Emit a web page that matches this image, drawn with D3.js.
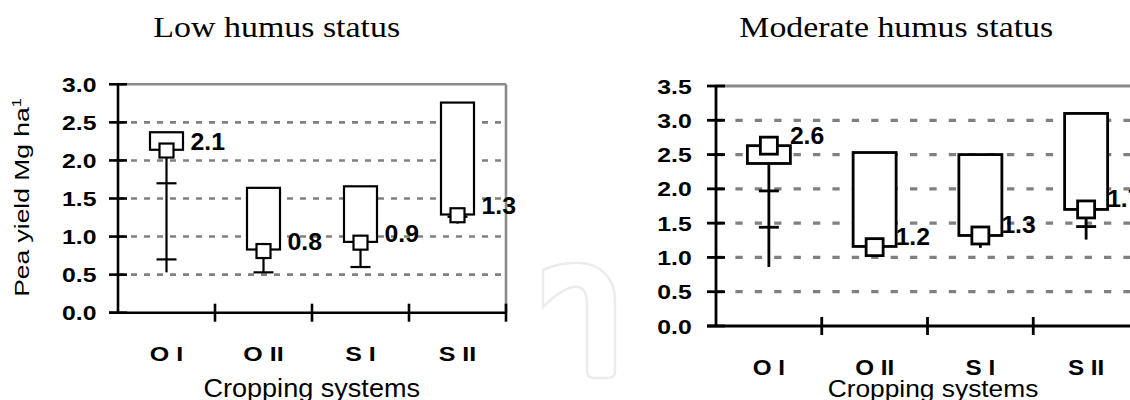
<!DOCTYPE html>
<html><head><meta charset="utf-8">
<script src="https://cdn.jsdelivr.net/npm/d3@7"></script>
<style>body{margin:0;background:#fff} svg{display:block}</style>
</head><body><svg id="c" width="1130" height="400"></svg>
<script>
// ---------- data ----------
const categories = ["O I", "O II", "S I", "S II"];

// Low humus status
const lowBoxTop    = [2.37, 1.64, 1.66, 2.76];
const lowBoxBottom = [2.14, 0.83, 0.93, 1.29];
const lowMean      = [2.13, 0.81, 0.92, 1.28];
const lowMin       = [0.53, 0.53, 0.60, 1.17];
const lowCross     = [[1.70, 0.70], [0.53], [0.60], [1.26]];
const lowLabels    = ["2.1", "0.8", "0.9", "1.3"];
const lowYTicks    = [0, 0.5, 1.0, 1.5, 2.0, 2.5, 3.0];

// Moderate humus status
const modBoxTop    = [2.63, 2.53, 2.50, 3.10];
const modBoxBottom = [2.37, 1.16, 1.32, 1.70];
const modMean      = [2.63, 1.15, 1.32, 1.70];
const modMin       = [0.86, 1.15, 1.14, 1.26];
const modCross     = [[1.97, 1.44], [], [], [1.45]];
const modLabels    = ["2.6", "1.2", "1.3", "1.7"];
const modYTicks    = [0, 0.5, 1.0, 1.5, 2.0, 2.5, 3.0, 3.5];

const titles = ["Low humus status", "Moderate humus status"];
const xTitle = "Cropping systems";
const yTitle = "Pea yield Mg ha";
const yTitleSup = "1";

// ---------- helpers ----------
const svg = d3.select("#c");
const SANS = "Arial, 'Liberation Sans', Helvetica, sans-serif";
const SERIF = "'Liberation Serif', 'Times New Roman', serif";

function txt(parent, x, y, s, o) {
  const g = parent.append("g");
  const t = g.append("text")
    .attr("text-anchor", o.anchor || "start")
    .style("font-family", o.family || SANS)
    .style("font-size", o.size + "px")
    .style("font-weight", o.weight || "normal")
    .attr("fill", "#000")
    .text(s);
  let sx = o.sx || 1;
  if (o.width) sx = o.width / t.node().getComputedTextLength();
  g.attr("transform", `translate(${x},${y})${o.rotate ? " rotate(" + o.rotate + ")" : ""} scale(${sx},1)`);
  return t;
}

// watermark (faint)
svg.append("path")
  .attr("d", "M543,270 C556,264 566,262.7 577,262.7 C600,262.7 615,278 615,300 L615,371 Q615,378 608,378 L594,378 Q587,378 587,371 L587,305 C587,293 583,286.7 576,286.7 C566,286.7 554,296 543,307 Z")
  .attr("fill", "none").attr("stroke", "#ececec").attr("stroke-width", 2.5);

function drawChart(cfg) {
  const g = svg.append("g");
  const x = d3.scaleBand().domain(categories).range([cfg.x0, cfg.x1]);
  const y = d3.scaleLinear().domain([0, cfg.yMax]).range([cfg.yBottom, cfg.yTop]);
  const xEnd = Math.min(cfg.x1, 1135);

  // grid lines
  g.selectAll(".grid").data(cfg.yTicks.filter(v => v > 0 && v < cfg.yMax)).join("line")
    .attr("x1", cfg.x0).attr("x2", xEnd)
    .attr("y1", d => y(d)).attr("y2", d => y(d))
    .attr("stroke", "#808080").attr("stroke-width", cfg.gridW)
    .attr("stroke-dasharray", cfg.dash);
  // top frame line (solid gray)
  g.append("line").attr("x1", cfg.x0).attr("x2", xEnd)
    .attr("y1", y(cfg.yMax)).attr("y2", y(cfg.yMax))
    .attr("stroke", "#8a8a8a").attr("stroke-width", cfg.gridW);
  if (cfg.rightFrame) {
    g.append("line").attr("x1", cfg.x1).attr("x2", cfg.x1)
      .attr("y1", y(cfg.yMax)).attr("y2", y(0))
      .attr("stroke", "#8a8a8a").attr("stroke-width", cfg.gridW);
  }

  // y axis
  const yAxis = d3.axisLeft(y).tickValues(cfg.yTicks).tickSize(0).tickFormat("");
  const ya = g.append("g").attr("transform", `translate(${cfg.x0},0)`).call(yAxis);
  ya.select(".domain").remove();
  g.append("line").attr("x1", cfg.x0).attr("x2", cfg.x0).attr("y1", y(cfg.yMax) - 1).attr("y2", y(0) + 1)
    .attr("stroke", "#000").attr("stroke-width", cfg.axisW);
  g.selectAll(".yt").data(cfg.yTicks).join("line")
    .attr("x1", cfg.x0 - 9).attr("x2", cfg.x0 + 9)
    .attr("y1", d => y(d)).attr("y2", d => y(d))
    .attr("stroke", "#000").attr("stroke-width", cfg.axisW);
  cfg.yTicks.forEach(v => {
    txt(g, cfg.x0 - cfg.tickLabelGap, y(v) + 7.5, d3.format(".1f")(v),
      { size: 19.5, weight: "bold", anchor: "end", sx: 1.27 });
  });

  // x axis
  g.append("line").attr("x1", cfg.x0 - 9).attr("x2", xEnd).attr("y1", y(0)).attr("y2", y(0))
    .attr("stroke", "#000").attr("stroke-width", cfg.axisW);
  const bounds = categories.map(c => x(c)).concat([cfg.x1]).filter(v => v > cfg.x0);
  g.selectAll(".xt").data(bounds).join("line")
    .attr("x1", d => d).attr("x2", d => d)
    .attr("y1", y(0) - 9).attr("y2", y(0) + 9)
    .attr("stroke", "#000").attr("stroke-width", cfg.axisW);
  categories.forEach(c => {
    txt(g, x(c) + x.bandwidth() / 2, y(0) + cfg.xLabelDy, c,
      { size: cfg.xLabelSize, weight: "bold", anchor: "middle", sx: cfg.xLabelSx });
  });

  // marks
  const cx = c => x(c) + x.bandwidth() / 2;
  categories.forEach((c, i) => {
    // whisker
    g.append("line").attr("x1", cx(c)).attr("x2", cx(c))
      .attr("y1", y(cfg.mean[i])).attr("y2", y(cfg.min[i]))
      .attr("stroke", "#000").attr("stroke-width", cfg.markW);
    cfg.cross[i].forEach(v => {
      g.append("line").attr("x1", cx(c) - 10).attr("x2", cx(c) + 10)
        .attr("y1", y(v)).attr("y2", y(v))
        .attr("stroke", "#000").attr("stroke-width", cfg.markW);
    });
    // box
    g.append("rect")
      .attr("x", cx(c) - cfg.boxW / 2).attr("width", cfg.boxW)
      .attr("y", y(cfg.top[i])).attr("height", y(cfg.bottom[i]) - y(cfg.top[i]))
      .attr("fill", "#fff").attr("stroke", "#000").attr("stroke-width", cfg.markW);
    // marker
    g.append("rect")
      .attr("x", cx(c) - cfg.mk / 2).attr("y", y(cfg.mean[i]) - cfg.mk / 2)
      .attr("width", cfg.mk).attr("height", cfg.mk)
      .attr("fill", "#fff").attr("stroke", "#000").attr("stroke-width", cfg.markW);
    // value label
    txt(g, cx(c) + cfg.labelDx, y(cfg.mean[i]) + cfg.labelDy, cfg.labels[i],
      { size: cfg.labelSize, weight: "bold", sx: cfg.labelSx });
  });

  // titles
  txt(g, cfg.titleX, 37.3, cfg.title, { size: 30, family: SERIF, width: cfg.titleW });
  txt(g, cfg.xTitleX, 396.7, xTitle, { size: cfg.xTitleSize, anchor: "middle", width: cfg.xTitleW });
}

drawChart({
  x0: 118, x1: 506, yTop: 84.3, yBottom: 312.7, yMax: 3.0, yTicks: lowYTicks,
  top: lowBoxTop, bottom: lowBoxBottom, mean: lowMean, min: lowMin, cross: lowCross, labels: lowLabels,
  boxW: 33, mk: 14, markW: 2.2, axisW: 2.6, gridW: 2.6, dash: "6,7", rightFrame: true,
  tickLabelGap: 21.5, xLabelDy: 48, xLabelSize: 20.5, xLabelSx: 1.22,
  labelDx: 24, labelDy: -1, labelSize: 23, labelSx: 1.08,
  title: titles[0], titleX: 153.3, titleW: 247,
  xTitleX: 311.7, xTitleSize: 25, xTitleW: 216.7
});

drawChart({
  x0: 716, x1: 1139, yTop: 86, yBottom: 326, yMax: 3.5, yTicks: modYTicks,
  top: modBoxTop, bottom: modBoxBottom, mean: modMean, min: modMin, cross: modCross, labels: modLabels,
  boxW: 43, mk: 17, markW: 2.8, axisW: 2.8, gridW: 3.2, dash: "7.3,12.1", rightFrame: false,
  tickLabelGap: 24.3, xLabelDy: 49, xLabelSize: 22, xLabelSx: 1.1,
  labelDx: 21, labelDy: -2, labelSize: 24, labelSx: 1.03,
  title: titles[1], titleX: 739.3, titleW: 314,
  xTitleX: 933, xTitleSize: 24, xTitleW: 210.7
});

// y axis title (left chart)
{
  const g = svg.append("g").attr("transform", "translate(29,197.5) rotate(-90)");
  const t = g.append("text").attr("text-anchor", "middle")
    .style("font-family", SANS).style("font-size", "21px").attr("fill", "#000");
  t.append("tspan").text(yTitle);
  t.append("tspan").attr("dy", -8).style("font-size", "13px").text(yTitleSup);
  const w = t.node().getComputedTextLength();
  g.attr("transform", `translate(29,197.5) rotate(-90) scale(${198.7 / w},1)`);
}
</script></body></html>
